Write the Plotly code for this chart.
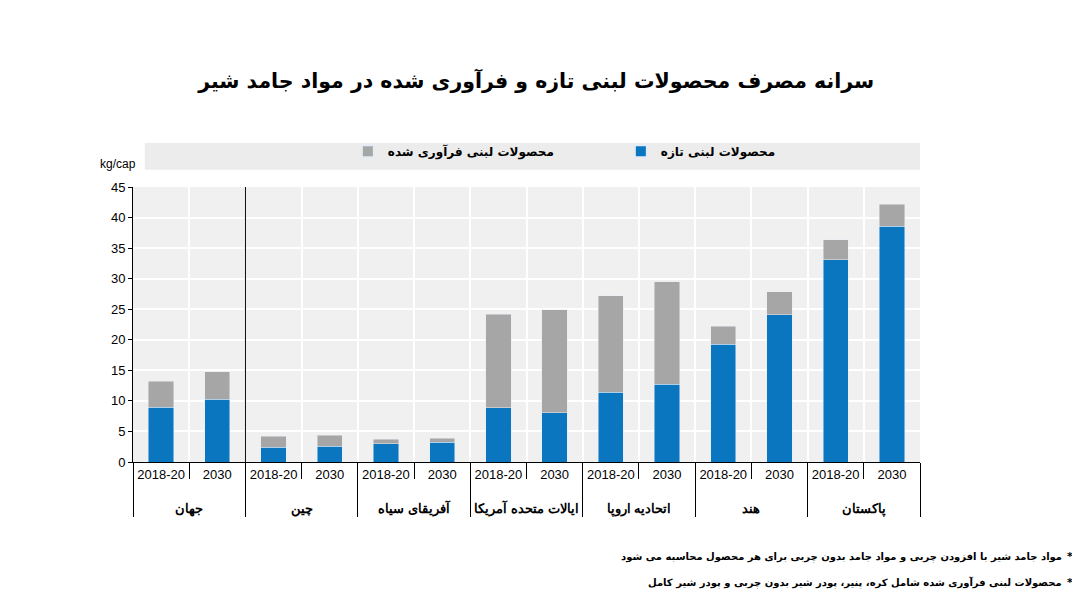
import plotly.graph_objects as go

# داده ها
regions = ["جهان", "چین", "آفریقای سیاه", "ایالات متحده آمریکا", "اتحادیه اروپا", "هند", "پاکستان"]
periods = ["2018-20", "2030"]
fresh = [9.0, 10.3, 2.4, 2.6, 3.0, 3.2, 8.9, 8.1, 11.4, 12.7, 19.3, 24.1, 33.1, 38.6]
total = [13.2, 14.8, 4.2, 4.4, 3.7, 3.9, 24.2, 24.9, 27.2, 29.5, 22.2, 27.9, 36.4, 42.2]
processed = [round(t - f, 2) for t, f in zip(total, fresh)]

grp = []
per = []
for r in regions:
    for p in periods:
        grp.append("<br><b>" + r + "</b>")
        per.append(p)
x = [grp, per]

fig = go.Figure()
fig.add_trace(go.Bar(x=x, y=fresh, name="<b>محصولات لبنی تازه</b>",
                     marker_color="#0b76c0", hoverinfo="y"))
fig.add_trace(go.Bar(x=x, y=processed, name="<b>محصولات لبنی فرآوری شده</b>",
                     marker_color="#a6a6a6", hoverinfo="y"))

fig.update_layout(
    barmode="stack",
    bargap=0.55,
    width=1080, height=607,
    margin=dict(l=125, r=168, t=179, b=153),
    paper_bgcolor="white",
    plot_bgcolor="#f0f0f0",
    font=dict(family="DejaVu Sans", size=12, color="black"),
    title=dict(text="<b>سرانه مصرف محصولات لبنی تازه و فرآوری شده در مواد جامد شیر</b>",
               x=0.489, xanchor="center", y=0.88, yanchor="middle",
               font=dict(size=20.5, color="black")),
    legend=dict(orientation="h", x=0.273, xanchor="left", y=1.13, yanchor="middle",
                traceorder="reversed", bgcolor="rgba(0,0,0,0)",
                entrywidth=228, font=dict(size=12), itemsizing="constant"),
    showlegend=True,
)

fig.update_xaxes(
    type="multicategory", tickangle=0,
    showgrid=True, gridcolor="white", gridwidth=1.5,
    tickson="boundaries", ticks="outside", ticklen=16, tickcolor="black",
    showline=True, linecolor="black", linewidth=1,
    showdividers=True, dividercolor="black", dividerwidth=1,
    tickfont=dict(family="Liberation Sans", size=13, color="black"),
)
fig.update_yaxes(
    range=[0, 45], dtick=5, showgrid=True, gridcolor="white", gridwidth=1.5,
    ticks="outside", ticklen=4, tickcolor="black",
    showline=True, linecolor="black", linewidth=1,
    tickfont=dict(family="Liberation Sans", size=13, color="black"),
    zeroline=False,
)

# نوار زمینه راهنما
fig.add_shape(type="rect", xref="paper", yref="paper",
              x0=0.015, x1=1.0, y0=1.063, y1=1.16,
              fillcolor="#ececec", line_width=0, layer="below")
# خط جداکننده جهان
fig.add_shape(type="line", xref="x", yref="paper", x0=1.5, x1=1.5, y0=0, y1=1,
              line=dict(color="black", width=1))

fig.add_annotation(text="kg/cap", xref="paper", yref="paper", x=0.006, y=1.084,
                   xanchor="right", yanchor="middle", showarrow=False,
                   font=dict(family="Liberation Sans", size=12))

notes = ["<b>مواد جامد شیر با افزودن چربی و مواد جامد بدون چربی برای هر محصول محاسبه می شود</b>",
         "<b>محصولات لبنی فرآوری شده شامل کره، پنیر، پودر شیر بدون چربی و پودر شیر کامل</b>"]
for i, n in enumerate(notes):
    yy = -0.345 - i * 0.092
    fig.add_annotation(text=n, xref="paper", yref="paper", x=1.183, y=yy,
                       xanchor="right", yanchor="middle", showarrow=False,
                       font=dict(size=10))
    fig.add_annotation(text="<b>*</b>", xref="paper", yref="paper", x=1.197, y=yy,
                       xanchor="right", yanchor="middle", showarrow=False,
                       font=dict(size=11))

fig.write_html("out.html")
